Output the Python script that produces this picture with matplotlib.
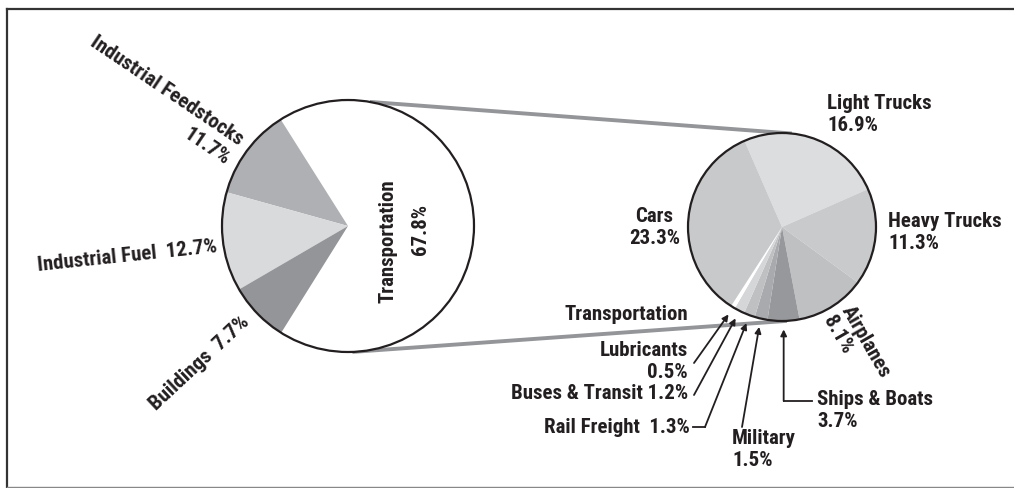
import numpy as np
import matplotlib
matplotlib.use("Agg")
import matplotlib.pyplot as plt
from matplotlib.patches import Circle

# canvas in pixels (y measured from the top, flipped by Y())
W, H = 1014, 489
def Y(y):
    return H - y

# left pie: whole petroleum use
main_labels = ['Transportation', 'Industrial Feedstocks', 'Industrial Fuel', 'Buildings']
main_values = [67.8, 11.7, 12.7, 7.7]
main_colors = ['#ffffff', '#aeb0b3', '#d9dadc', '#939598']

# right pie: transportation breakdown
trans_labels = ['Light Trucks', 'Heavy Trucks', 'Airplanes', 'Ships & Boats', 'Military',
                'Rail Freight', 'Buses & Transit', 'Lubricants', 'Cars']
trans_values = [16.9, 11.3, 8.1, 3.7, 1.5, 1.3, 1.2, 0.5, 23.3]
trans_colors = ['#dcdddf', '#c9cacc', '#bfc0c2', '#97989b', '#a8aaad',
                '#bfc0c2', '#d5d6d8', '#ffffff', '#c8c9cb']

ink = '#231f20'
plt.rcParams['font.family'] = ['Roboto Condensed', 'DejaVu Sans']
plt.rcParams['font.weight'] = 'bold'
fs = 15

fig = plt.figure(figsize=(W / 100, H / 100), dpi=100)
ax = fig.add_axes([0, 0, 1, 1])

c1, r1 = (348, Y(227)), 126
c2, r2 = (782, Y(228)), 94

start1 = 180 + (100 - main_values[0]) / 100 * 360 / 2
ax.pie(main_values, colors=main_colors, startangle=start1, counterclock=True,
       center=c1, radius=r1, wedgeprops=dict(linewidth=0), frame=True)
ax.add_patch(Circle(c1, r1, fill=False, ec=ink, lw=1.6, zorder=5))

wedges, _ = ax.pie(trans_values, colors=trans_colors, startangle=113.5, counterclock=False,
                   center=c2, radius=r2, wedgeprops=dict(linewidth=0), frame=True)
ax.add_patch(Circle(c2, r2, fill=False, ec=ink, lw=1.6, zorder=5))

# gray connectors between the two circles
def on_circle(c, r, ang):
    a = np.radians(ang)
    return c[0] + r * np.cos(a), c[1] + r * np.sin(a)

for a1, a2 in [(80, 84), (-88, -87)]:
    p1 = on_circle(c1, r1, a1)
    p2 = on_circle(c2, r2, a2)
    ax.plot([p1[0], p2[0]], [p1[1], p2[1]], color='#939598', lw=2.8,
            solid_capstyle='butt', zorder=0)

# left pie labels
ax.text(160, Y(101), 'Industrial Feedstocks\n11.7%', rotation=-34, rotation_mode='anchor',
        ha='center', va='center', multialignment='right', fontsize=fs, color=ink, linespacing=1.3)
ax.text(127, Y(256), 'Industrial Fuel  12.7%', rotation=6, rotation_mode='anchor',
        ha='center', va='center', fontsize=fs, color=ink)
ax.text(200, Y(363), 'Buildings  7.7%', rotation=43, rotation_mode='anchor',
        ha='center', va='center', fontsize=fs, color=ink)
ax.text(388, Y(241), 'Transportation', rotation=90, ha='center', va='center',
        fontsize=fs, color=ink)
ax.text(420, Y(230), '67.8%', rotation=90, ha='center', va='center', fontsize=fs, color=ink)

# right pie labels
ax.text(827, Y(115), 'Light Trucks\n16.9%', ha='left', va='center', fontsize=fs, color=ink)
ax.text(888, Y(233), 'Heavy Trucks\n11.3%', ha='left', va='center', fontsize=fs, color=ink)
ax.text(680, Y(228), 'Cars\n23.3%', ha='right', va='center', multialignment='center',
        fontsize=fs, color=ink)
ax.text(857, Y(347), 'Airplanes\n8.1%', rotation=-60, rotation_mode='anchor',
        ha='center', va='center', multialignment='left', fontsize=fs, color=ink, linespacing=1.1)
ax.text(688, Y(315), 'Transportation', ha='right', va='center', fontsize=fs, color=ink)
ax.text(688, Y(362), 'Lubricants\n0.5%', ha='right', va='center', multialignment='right',
        fontsize=fs, color=ink)
ax.text(688, Y(394), 'Buses & Transit 1.2%', ha='right', va='center', fontsize=fs, color=ink)
ax.text(690, Y(428), 'Rail Freight  1.3%', ha='right', va='center', fontsize=fs, color=ink)
ax.text(732, Y(450), 'Military\n1.5%', ha='left', va='center', fontsize=fs, color=ink)
ax.text(817, Y(411), 'Ships & Boats\n3.7%', ha='left', va='center', fontsize=fs, color=ink)

# arrows to the thin slices, tips at each slice's middle angle
mids = {}
for w, lab in zip(wedges, trans_labels):
    mids[lab] = (w.theta1 + w.theta2) / 2
arrow = dict(arrowstyle='-|>', color=ink, lw=1.3, mutation_scale=9, shrinkA=0, shrinkB=0)

def tip(lab):
    return on_circle(c2, r2 * 1.09, mids[lab])

ax.annotate('', xy=tip('Lubricants'), xytext=(694, Y(364)), arrowprops=arrow)
ax.annotate('', xy=tip('Buses & Transit'), xytext=(694, Y(396)), arrowprops=arrow)
ax.plot([693, 705], [Y(428), Y(428)], color=ink, lw=1.3)
ax.annotate('', xy=tip('Rail Freight'), xytext=(705, Y(428)), arrowprops=arrow)
ax.annotate('', xy=tip('Military'), xytext=(742, Y(428)), arrowprops=arrow)
tx, ty = tip('Ships & Boats')
ax.plot([812, tx], [Y(402), Y(402)], color=ink, lw=1.3)
ax.annotate('', xy=(tx, ty), xytext=(tx, Y(402)), arrowprops=arrow)

# frame
ax.plot([7, 7], [Y(488), Y(10)], color='#333333', lw=1.6)
ax.plot([7, W], [Y(10), Y(10)], color='#333333', lw=1.6)
ax.plot([7, W], [Y(488), Y(488)], color='#888888', lw=1.0)

ax.set_xlim(0, W)
ax.set_ylim(0, H)
ax.set_aspect('equal')
ax.axis('off')

fig.savefig('out.png', dpi=100)
